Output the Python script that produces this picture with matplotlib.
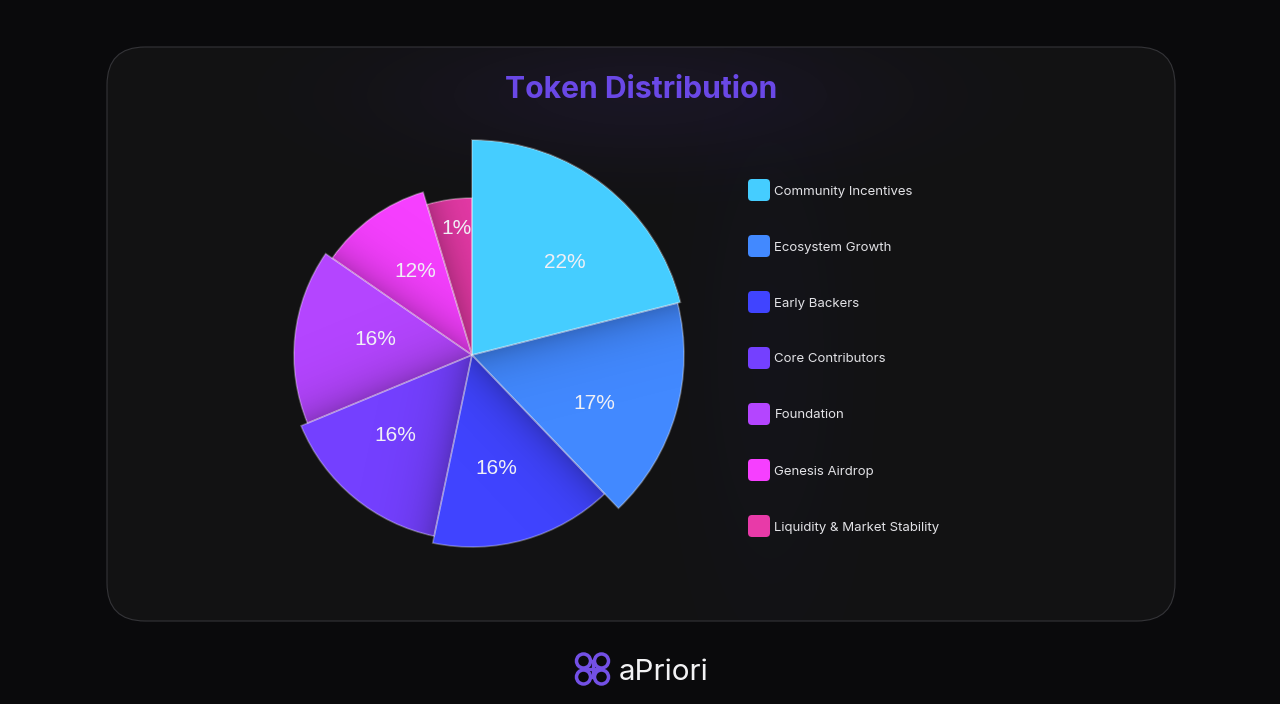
# -*- coding: utf-8 -*-
import numpy as np
import matplotlib
matplotlib.use('Agg')
import matplotlib.pyplot as plt
from matplotlib.patches import FancyBboxPatch, Circle

W, H = 1280, 704

# values
categories = ['Community Incentives', 'Ecosystem Growth', 'Early Backers', 'Core Contributors',
              'Foundation', 'Genesis Airdrop', 'Liquidity & Market Stability']
percents = [22, 17, 16, 16, 16, 12, 1]
# the drawn slices do not follow the percents, so angles and radii are read separately
start_deg = [90.0, 14.2, -46.3, -101.8, -157.5, -214.7, -253.3]
end_deg = [14.2, -46.3, -101.8, -157.5, -214.7, -253.3, -270.0]
radii = [215, 212, 192, 185, 178, 170, 157]
colors = ['#45cdff', '#4289ff', '#4044ff', '#7440ff', '#b445ff', '#f63fff', '#e83aa8']

# label placement in polar coords (deg, px)
label_deg = [45.3, -21.0, -77.8, -134.0, 170.0, 123.8, 96.7]
label_r = [132, 131, 114, 110, 98, 102, 129]

CX, CY = 472, 355
RMAX = 215


def glow(ax, x0, y0, sx, sy, rgb, alpha, clip):
    xx, yy = np.meshgrid(np.arange(W), np.arange(H))
    a = alpha * np.exp(-((xx - x0) / sx) ** 2 / 2 - ((yy - y0) / sy) ** 2 / 2)
    img = np.zeros((H, W, 4))
    img[..., :3] = rgb
    img[..., 3] = a
    im = ax.imshow(img, extent=(0, W, H, 0), zorder=2, interpolation='bilinear')
    im.set_clip_path(clip)


def polar_axes(zorder):
    a = fig.add_axes(pie_rect, projection='polar', zorder=zorder)
    a.set_ylim(0, RMAX)
    a.axis('off')
    a.patch.set_alpha(0)
    return a


fig = plt.figure(figsize=(W / 100, H / 100), dpi=100, facecolor='#0a0a0c')

# background, panel, title, legend: axes in pixel units
bg = fig.add_axes([0, 0, 1, 1], zorder=0)
bg.axis('off')

panel = FancyBboxPatch((107 + 38, 47 + 38), 1068 - 76, 574 - 76, boxstyle='round,pad=38,rounding_size=38',
                       fc='#121213', ec='#343438', lw=0.8, zorder=1)
bg.add_patch(panel)
glow(bg, 640, 95, 170, 48, (0.36, 0.22, 0.75), 0.10, panel)
glow(bg, 770, 350, 55, 190, (0.20, 0.22, 0.60), 0.05, panel)
bg.set_xlim(0, W)
bg.set_ylim(H, 0)

bg.text(641, 89.5, 'Token Distribution', color='#6a48e6', fontsize=21.7, fontweight='bold',
        family='Inter', ha='center', va='center', zorder=5)

for i, name in enumerate(categories):
    y = 190 + i * 56
    bg.add_patch(FancyBboxPatch((752, y - 7), 14, 14, boxstyle='round,pad=4,rounding_size=4',
                                fc=colors[i], ec='none', zorder=5))
    bg.text(774.5, y + 1.5, name, color='#e2e2e6', fontsize=9.5, family='Inter', ha='left', va='center', zorder=5)

# logo
logo = '#7350e6'
for lx, ly in [(583.5, 661), (601.5, 661), (583.5, 677), (601.5, 677)]:
    bg.add_patch(Circle((lx, ly), 7, fc='none', ec=logo, lw=2.5, zorder=5))
bg.plot([584, 601], [669, 669], color=logo, lw=2.4, zorder=5)
bg.plot([592.5, 592.5], [661, 677], color=logo, lw=2.4, zorder=5)
bg.text(619, 672, 'aPriori', color='#f2f2f4', fontsize=21.3, family='Inter', ha='left', va='center', zorder=5)

# the pie, polar bars with radius in px
pie_rect = [(CX - RMAX) / W, (H - CY - RMAX) / H, 2 * RMAX / W, 2 * RMAX / H]
ax = polar_axes(1)
top = polar_axes(3)

# shadow thrown by each slice over the next one, pixel image between the two polar axes
sh = fig.add_axes(pie_rect, zorder=2)
sh.axis('off')
sh.patch.set_alpha(0)
px = np.arange(-RMAX, RMAX) + 0.5
X, Y = np.meshgrid(px, -px)
dist = np.hypot(X, Y)
ang = np.degrees(np.arctan2(Y, X))
alpha = np.zeros(X.shape)

for i in range(len(percents)):
    a0 = np.radians(start_deg[i])
    a1 = np.radians(end_deg[i])
    ax.bar((a0 + a1) / 2, radii[i], width=a0 - a1, color=colors[i], edgecolor='none', zorder=2)
    top.bar((a0 + a1) / 2, radii[i], width=a0 - a1, color='none', edgecolor=(1, 1, 1, 0.3),
            linewidth=1.2, zorder=4, clip_on=False)
    top.annotate('%d%%' % percents[i], xy=(np.radians(label_deg[i]), label_r[i]), xytext=(0, -1.2),
                 textcoords='offset points', color='#f0f0f6', fontsize=15, family='Liberation Sans',
                 ha='center', va='center', zorder=6)

    if i > 0:
        off = (start_deg[i] - ang) % 360
        inside = (off <= start_deg[i] - end_deg[i]) & (dist < radii[i] - 0.5)
        d = dist * np.sin(np.radians(np.clip(off, 0, 90)))
        alpha[inside] = (0.24 * np.exp(-d / 20.0))[inside]

shadow = np.zeros(X.shape + (4,))
shadow[..., 3] = alpha
sh.imshow(shadow, extent=(-RMAX, RMAX, -RMAX, RMAX), interpolation='nearest', aspect='auto')

fig.savefig('out.png', dpi=100, facecolor=fig.get_facecolor())
